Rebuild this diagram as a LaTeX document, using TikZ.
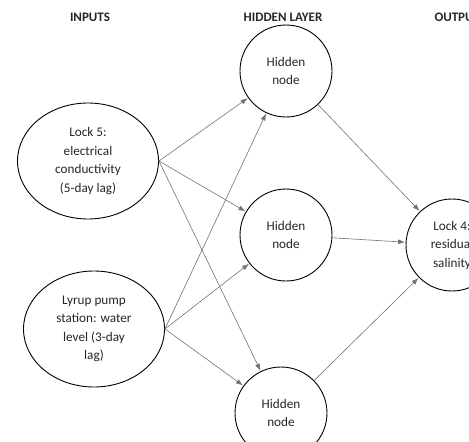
\documentclass[tikz,border=0pt]{standalone}
\usepackage{fontspec}
\setmainfont{Carlito}
\usepackage{tikz}
\usetikzlibrary{arrows.meta, shapes.geometric}

\begin{document}
\begin{tikzpicture}[x=1pt, y=-1pt, line cap=round, line join=round, >={Latex[length=7pt,width=5pt]},
  inputnode/.style={ellipse, draw, line width=0.9pt, minimum width=141pt, minimum height=116pt,
    align=center, inner sep=0pt, font=\fontsize{13.2}{18.5}\selectfont, text=black!85},
  hiddennode/.style={circle, draw, line width=0.9pt, minimum size=92pt, inner sep=0pt,
    align=center, font=\fontsize{13.2}{18.5}\selectfont, text=black!85},
  header/.style={font=\fontsize{13}{15}\selectfont\bfseries, text=black!85},
  link/.style={->, draw=black!55, line width=0.6pt, shorten >=0.5pt}]

  % Frame of the picture (cut at right and bottom)
  \useasboundingbox (0,0) rectangle (469,442);
  \clip (0,0) rectangle (469,442);

  % Layer titles
  \node[header] (tIn)  at (90,17)  {INPUTS};
  \node[header] (tHid) at (283,17) {HIDDEN LAYER};
  \node[header, anchor=west] (tOut) at (431,17) {OUTPUT};

  % Inputs
  \node[inputnode] (in1) at (88,161) {Lock 5:\\electrical\\conductivity\\(5-day lag)};
  \node[inputnode] (in2) at (94,329) {Lyrup pump\\station: water\\level (3-day\\lag)};

  % Hidden layer
  \node[hiddennode] (h1) at (286,71)  {Hidden\\node};
  \node[hiddennode] (h2) at (286,235) {Hidden\\node};
  \node[hiddennode] (h3) at (281,413) {Hidden\\node};

  % Output
  \node[hiddennode] (out) at (452,245) {Lock 4:\\residual\\salinity};

  % Connections input -> hidden
  \foreach \i in {in1,in2}
    \foreach \h in {h1,h2,h3}
      \draw[link] (\i.east) -- (\h);

  % Connections hidden -> output
  \foreach \h in {h1,h2,h3}
    \draw[link] (\h) -- (out);

\end{tikzpicture}
\end{document}
